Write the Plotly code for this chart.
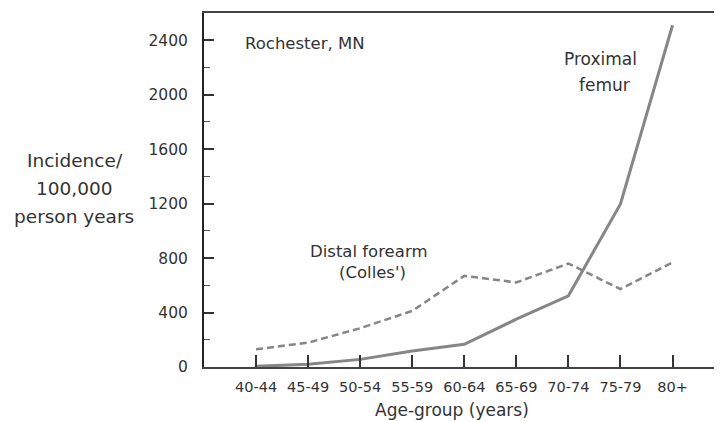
import plotly.graph_objects as go

age_groups = ["40-44", "45-49", "50-54", "55-59", "60-64", "65-69", "70-74", "75-79", "80+"]
proximal_femur = [5, 20, 56, 118, 167, 351, 523, 1198, 2510]
distal_forearm = [130, 179, 285, 412, 670, 621, 760, 572, 768]
y_ticks = [0, 400, 800, 1200, 1600, 2000, 2400]

FONT = "DejaVu Sans"
TXT = "#333333"

# The page body has an 8px margin, so the figure is sized/offset to compensate.
OFF = 8
PL, PR, PT, PB = 204, 722, 13, 367   # plot area in page pixels

fig = go.Figure()
x_idx = list(range(len(age_groups)))

fig.add_trace(go.Scatter(
    x=x_idx, y=distal_forearm, mode="lines",
    line=dict(color="#868686", width=2.5, dash="7px,4px"),
    showlegend=False, hoverinfo="skip"))
fig.add_trace(go.Scatter(
    x=x_idx, y=proximal_femur, mode="lines",
    line=dict(color="#868686", width=3),
    showlegend=False, hoverinfo="skip"))

fig.update_layout(
    width=722 - OFF, height=421 - OFF,
    margin=dict(l=PL - OFF, r=0, t=PT - OFF, b=421 - PB, autoexpand=False),
    paper_bgcolor="white", plot_bgcolor="white",
    font=dict(family=FONT, size=14, color=TXT),
    xaxis=dict(
        range=[-1, 8.95],
        tickmode="array", tickvals=x_idx, ticktext=age_groups,
        ticks="inside", ticklen=12, tickwidth=1.5, tickcolor="#333",
        showline=True, linecolor="#444", linewidth=1.5, mirror=True,
        showgrid=False, zeroline=False,
        tickfont=dict(family=FONT, size=14.5, color=TXT),
        ticklabelstandoff=6,
    ),
    yaxis=dict(
        range=[0, 2600],
        tickmode="array", tickvals=y_ticks,
        ticks="inside", ticklen=10, tickwidth=1.5, tickcolor="#333",
        minor=dict(dtick=200, tick0=0, ticks="inside", ticklen=6, tickcolor="#555", tickwidth=1),
        showline=True, linecolor="#222", linewidth=2,
        showgrid=False, zeroline=False,
        tickfont=dict(family=FONT, size=15.5, color=TXT),
        ticklabelstandoff=11,
    ),
)

def fig_ann(text, xp, yp, size, xanchor="center"):
    # place by absolute page-pixel position, converted to plot-area paper coordinates
    xr = (xp - PL) / (PR - PL)
    yr = (PB - yp) / (PB - PT)
    fig.add_annotation(text=text, x=xr, y=yr, xref="paper", yref="paper",
                       xanchor=xanchor, yanchor="middle", showarrow=False,
                       font=dict(family=FONT, size=size, color=TXT), align="center")

fig_ann("Rochester, MN", 243, 43, 16.5, xanchor="left")
fig_ann("Proximal", 600, 59, 17)
fig_ann("femur", 604, 85, 17)
fig_ann("Distal forearm", 368, 251, 16.5)
fig_ann("(Colles')", 372, 272, 16.5)
fig_ann("Incidence/", 75, 160, 18.5)
fig_ann("100,000", 74, 188, 18.5)
fig_ann("person years", 74, 216, 18.5)
fig_ann("Age-group (years)", 452, 410, 17)

fig.write_html("out.html")
